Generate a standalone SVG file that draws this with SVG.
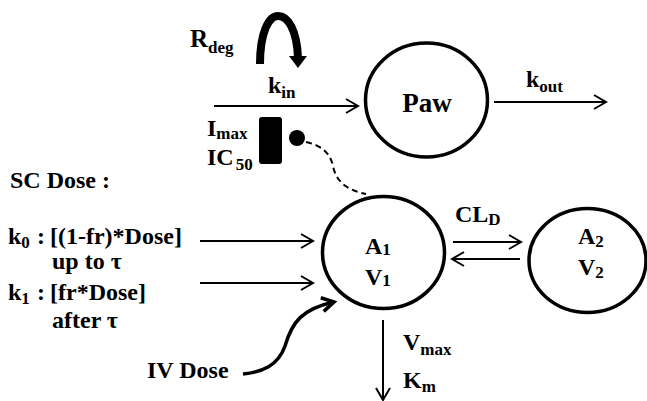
<svg xmlns="http://www.w3.org/2000/svg" width="647" height="401" viewBox="0 0 647 401">
<style>
text{font-family:'Liberation Serif','Times New Roman',serif;font-weight:700;font-size:24px;fill:#000}
.sub{font-size:17px}
.node{fill:none;stroke:#000;stroke-width:3.5}
.ln{fill:none;stroke:#000;stroke-width:2}
</style>
<defs>
<marker id="open" markerUnits="userSpaceOnUse" markerWidth="16" markerHeight="18" refX="13" refY="8" orient="auto">
<path d="M1,1 L13,8 L1,15" fill="none" stroke="#000" stroke-width="2"/>
</marker>
<marker id="openThick" markerUnits="userSpaceOnUse" markerWidth="18" markerHeight="20" refX="14" refY="9" orient="auto">
<path d="M2,2 L14,9 L2,16" fill="none" stroke="#000" stroke-width="3.5"/>
</marker>
</defs>
<rect width="647" height="401" fill="#fff"/>
<g id="paw">
<ellipse class="node" cx="426.5" cy="100" rx="61" ry="57"/>
<text x="427" y="112" text-anchor="middle" style="font-size:27px">Paw</text>
</g>
<g id="a1">
<ellipse class="node" cx="383.5" cy="252.5" rx="61" ry="56"/>
<text x="365" y="254">A<tspan class="sub" dy="1">1</tspan></text>
<text x="365" y="285">V<tspan class="sub" dy="1">1</tspan></text>
</g>
<g id="a2">
<ellipse class="node" cx="587.5" cy="260.5" rx="58.5" ry="52"/>
<text x="578" y="244">A<tspan class="sub" dy="3">2</tspan></text>
<text x="578" y="275">V<tspan class="sub" dy="3">2</tspan></text>
</g>
<g id="inhibition">
<rect x="259" y="117" width="23" height="47" rx="3" fill="#000"/>
<circle cx="297" cy="138" r="8" fill="#000"/>
</g>
<g id="connectors">
<line class="ln" x1="214" y1="106" x2="358" y2="106" marker-end="url(#open)"/>
<line class="ln" x1="494" y1="102" x2="606" y2="102" marker-end="url(#open)"/>
<line class="ln" x1="200" y1="241" x2="313" y2="241" marker-end="url(#open)"/>
<line class="ln" x1="200" y1="283" x2="313" y2="283" marker-end="url(#open)"/>
<line class="ln" x1="453" y1="242" x2="521" y2="242" marker-end="url(#open)"/>
<line class="ln" x1="520" y1="259" x2="452" y2="259" marker-end="url(#open)"/>
<line class="ln" x1="383" y1="320" x2="383" y2="400" marker-end="url(#open)"/>
<path d="M306,142 C320,145 330,152 333,166 C336,181 346,190 366,194" fill="none" stroke="#000" stroke-width="2" stroke-dasharray="6,4"/>
<path d="M243,374 C262,372 278,366 285,346 C292,322 302,309 334,302" fill="none" stroke="#000" stroke-width="3.5" marker-end="url(#openThick)"/>
<path d="M260,64 C260,32 269,16 278,16 C288,16 297,30 298,58" fill="none" stroke="#000" stroke-width="8"/>
<polygon points="289,56 307,56 298,68" fill="#000"/>
</g>
<g id="labels">
<text x="190" y="47" style="font-size:25px">R<tspan class="sub" dy="6">deg</tspan></text>
<text x="268" y="93">k<tspan class="sub" dy="5">in</tspan></text>
<text x="526" y="87">k<tspan class="sub" dy="5">out</tspan></text>
<text x="207" y="136">I<tspan class="sub" dy="3">max</tspan></text>
<text x="207" y="165">IC<tspan class="sub" dx="2" dy="5">50</tspan></text>
<text x="10" y="188">SC Dose :</text>
<text x="8" y="244">k<tspan class="sub" dy="4">0</tspan><tspan x="37" y="244">:</tspan><tspan x="50" y="244">[(1-fr)*Dose]</tspan></text>
<text x="52" y="269">up to τ</text>
<text x="8" y="300">k<tspan class="sub" dy="4">1</tspan><tspan x="37" y="300">:</tspan><tspan x="50" y="300">[fr*Dose]</tspan></text>
<text x="52" y="328">after τ</text>
<text x="147" y="378">IV Dose</text>
<text x="455" y="222">CL<tspan class="sub" dy="3">D</tspan></text>
<text x="403" y="350">V<tspan class="sub" dy="5">max</tspan></text>
<text x="403" y="388">K<tspan class="sub" dy="4">m</tspan></text>
</g>
</svg>
